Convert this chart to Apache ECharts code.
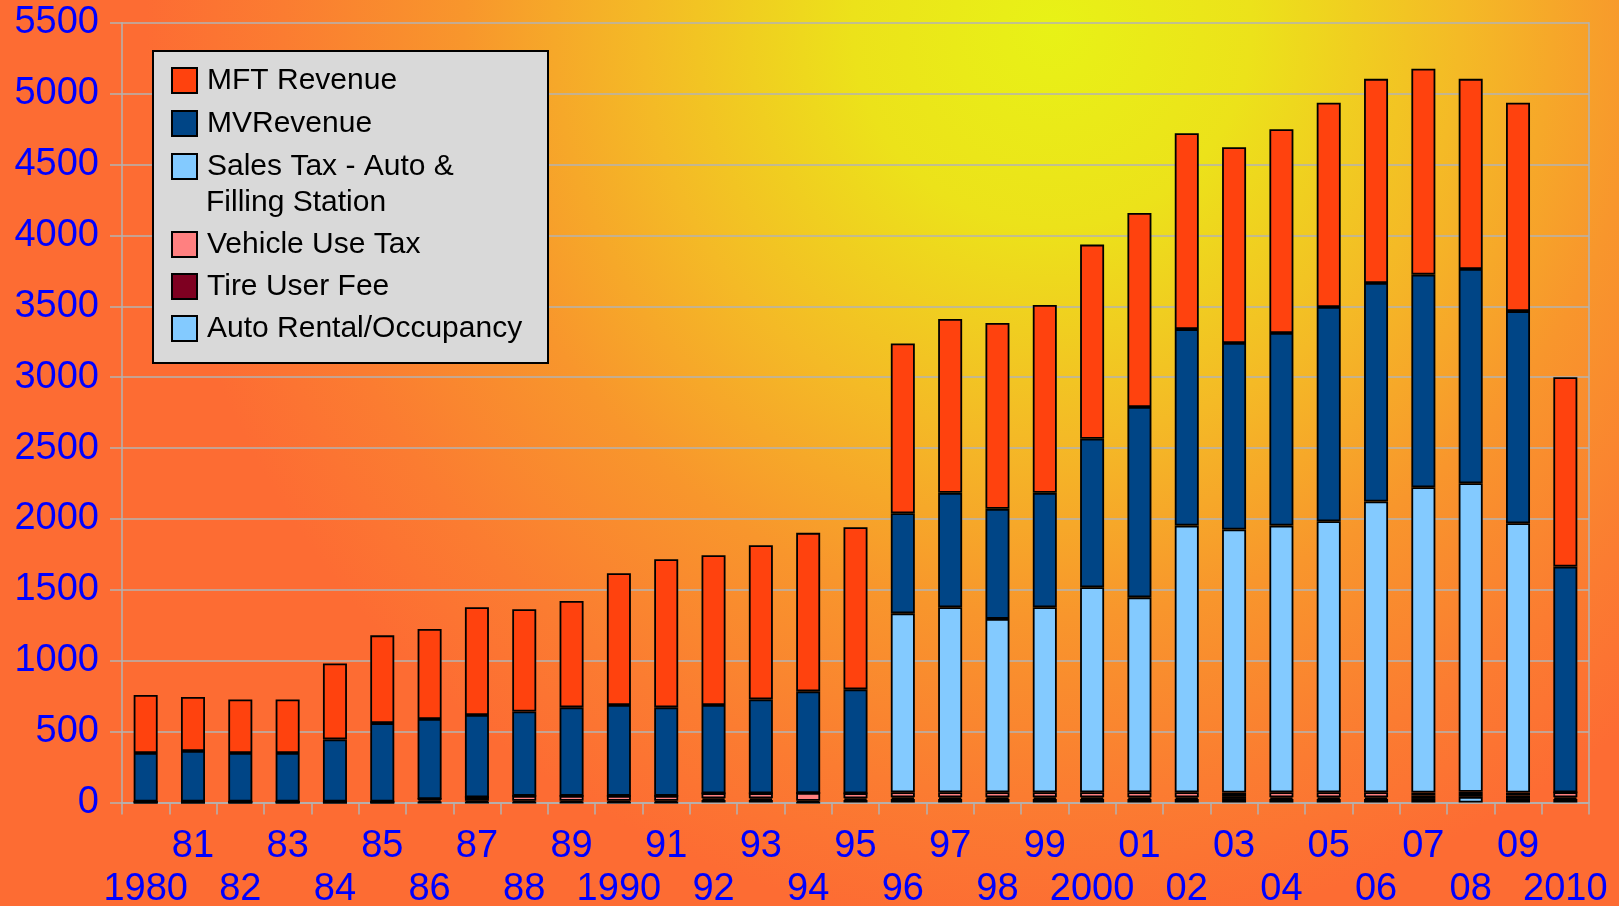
<!DOCTYPE html>
<html>
<head>
<meta charset="utf-8">
<script src="https://cdn.jsdelivr.net/npm/echarts@6/dist/echarts.min.js"></script>
<style>
html,body{margin:0;padding:0;width:1619px;height:906px;overflow:hidden;}
#c{width:1619px;height:906px;}
</style>
</head>
<body>
<div id="c"></div>
<script>
const years = ['1980','81','82','83','84','85','86','87','88','89','1990','91','92','93','94','95','96','97','98','99','2000','01','02','03','04','05','06','07','08','09','2010'];

const autoRental = [0,0,0,0,0,0,0,0,0,0,0,0,18,18,0,18,25,25,25,25,25,25,25,25,25,25,25,25,40,25,25];
const tireFee    = [0,0,0,0,0,0,12,12,12,12,12,12,12,12,12,12,12,12,12,12,12,12,12,20,12,12,12,25,20,25,12];
const vehicleUse = [6,6,6,6,6,6,12,25,35,35,35,35,35,35,55,35,35,35,35,35,35,35,35,25,35,35,35,20,15,20,35];
const salesTax   = [0,0,0,0,0,0,0,0,0,0,0,0,0,0,0,0,1262,1305,1223,1305,1446,1375,1881,1855,1881,1912,2051,2154,2177,1900,0];
const mvRevenue  = [343,357,343,343,439,554,565,580,595,624,641,624,623,662,717,733,706,807,776,807,1048,1342,1386,1316,1358,1511,1541,1499,1511,1496,1592];
const mftRevenue = [409,381,378,378,536,619,635,760,721,751,929,1045,1056,1087,1118,1143,1198,1226,1311,1325,1369,1369,1382,1381,1438,1440,1440,1452,1341,1469,1336];

const yTicks = {min: 0, max: 5500, interval: 500};

const SALES_NAME = 'Sales Tax - Auto & Filling Station';
const FONT = 'Liberation Sans';
const GRID_COLOR = '#b3b3b3';

function mk(name, data, color) {
  return {
    name: name, type: 'bar', stack: 'total', data: data, barWidth: 24,
    itemStyle: {color: color, borderColor: '#000', borderWidth: 1.8},
    emphasis: {disabled: true}
  };
}

const chart = echarts.init(document.getElementById('c'), null, {renderer: 'canvas'});
chart.setOption({
  animation: false,
  backgroundColor: '#fb7a33',
  textStyle: {fontFamily: FONT},
  graphic: [
    {
      type: 'rect', z: -100, silent: true,
      shape: {x: 0, y: 0, width: 1619, height: 906},
      style: {fill: {
        type: 'radial', x: 0.65, y: 0.03, r: 1.0, global: false,
        colorStops: [
          {offset: 0, color: '#e8f216'},
          {offset: 0.22, color: '#ece21a'},
          {offset: 0.45, color: '#f4ba26'},
          {offset: 0.65, color: '#f8962c'},
          {offset: 0.85, color: '#fb7c31'},
          {offset: 1, color: '#fd6c33'}
        ]
      }}
    },
    {
      type: 'rect', z: 50, silent: true,
      shape: {x: 153, y: 51, width: 395, height: 312},
      style: {fill: '#d9d9d9', stroke: '#000', lineWidth: 2}
    },
    {
      type: 'text', z: 60, silent: true,
      x: 206, y: 202.5,
      style: {text: 'Filling Station', font: '30px "Liberation Sans"', fill: '#000', textVerticalAlign: 'middle', verticalAlign: 'middle'}
    }
  ],
  grid: {left: 122, right: 30, top: 22.7, bottom: 103.5, containLabel: false, outerBoundsMode: 'none'},
  legend: [
    {
      z: 60, left: 171, top: 61.5, orient: 'vertical', itemGap: 5,
      itemWidth: 25, itemHeight: 25, icon: 'rect', selectedMode: false, padding: 0,
      data: ['MFT Revenue', 'MVRevenue', SALES_NAME],
      formatter: function (n) { return n === SALES_NAME ? 'Sales Tax - Auto &' : n; },
      textStyle: {fontSize: 30, color: '#000', fontFamily: FONT, lineHeight: 38, padding: [0, 0, 0, 5]}
    },
    {
      z: 60, left: 171, top: 225.5, orient: 'vertical', itemGap: 4,
      itemWidth: 25, itemHeight: 25, icon: 'rect', selectedMode: false, padding: 0,
      data: ['Vehicle Use Tax', 'Tire User Fee', 'Auto Rental/Occupancy'],
      textStyle: {fontSize: 30, color: '#000', fontFamily: FONT, lineHeight: 38, padding: [0, 0, 0, 5]}
    }
  ],
  xAxis: {
    type: 'category', data: years, boundaryGap: true,
    axisLine: {show: true, lineStyle: {color: GRID_COLOR, width: 1.5}},
    axisTick: {show: true, interval: 0, length: 12, lineStyle: {color: GRID_COLOR, width: 1.5}},
    axisLabel: {
      interval: 0, color: '#0000ff', fontSize: 38, fontFamily: FONT, lineHeight: 42.5, margin: 23,
      formatter: function (v, i) { return i % 2 === 0 ? '\n' + v : v; }
    },
    splitLine: {show: false}
  },
  yAxis: [
    {
      type: 'value', min: yTicks.min, max: yTicks.max, interval: yTicks.interval,
      axisLine: {show: true, lineStyle: {color: GRID_COLOR, width: 1.5}},
      axisTick: {show: true, length: 12, lineStyle: {color: GRID_COLOR, width: 1.5}},
      axisLabel: {color: '#0000ff', fontSize: 38, fontFamily: FONT, margin: 23,
        formatter: function (v) { return String(v); }},
      splitLine: {show: true, lineStyle: {color: GRID_COLOR, width: 1.5}}
    },
    {
      type: 'value', position: 'right', min: yTicks.min, max: yTicks.max, interval: yTicks.interval,
      axisLine: {show: true, lineStyle: {color: GRID_COLOR, width: 1.5}},
      axisTick: {show: false}, axisLabel: {show: false}, splitLine: {show: false}
    }
  ],
  series: [
    mk('Auto Rental/Occupancy', autoRental, '#83caff'),
    mk('Tire User Fee', tireFee, '#7e0021'),
    mk('Vehicle Use Tax', vehicleUse, '#ff8080'),
    mk(SALES_NAME, salesTax, '#83caff'),
    mk('MVRevenue', mvRevenue, '#004586'),
    mk('MFT Revenue', mftRevenue, '#ff420e')
  ]
});
</script>
</body>
</html>
